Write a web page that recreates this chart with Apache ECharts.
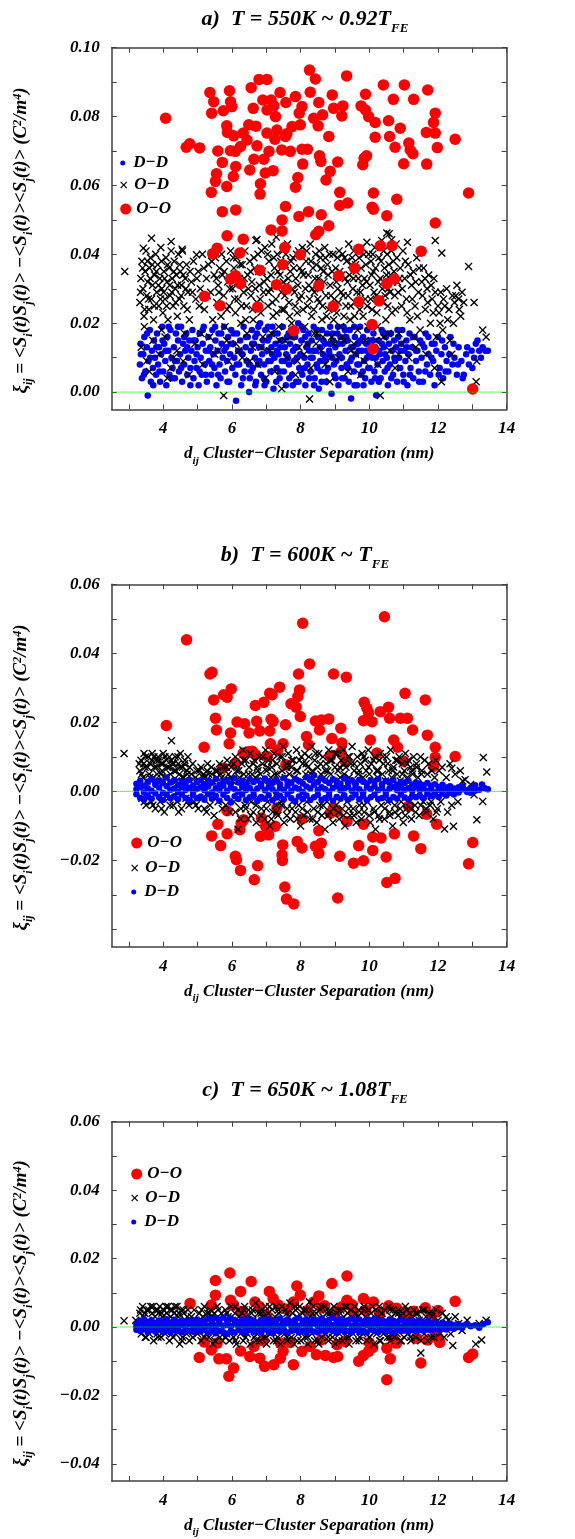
<!DOCTYPE html>
<html>
<head>
<meta charset="utf-8">
<title>Cluster correlation</title>
<script src="https://cdn.jsdelivr.net/npm/echarts@6/dist/echarts.min.js"></script>
<style>
  * { margin: 0; padding: 0; }
  body { background: #fff; }
  #main { width: 575px; height: 1539px; }
</style>
</head>
<body>
<div id="main"></div>
<script>
// axis ticks
var xTicks = [3, 4, 5, 6, 7, 8, 9, 10, 11, 12, 13, 14];
var xLabels = [4, 6, 8, 10, 12, 14];
var aYTicks = [0, 0.01, 0.02, 0.03, 0.04, 0.05, 0.06, 0.07, 0.08, 0.09, 0.10];
var aYLabels = [0, 0.02, 0.04, 0.06, 0.08, 0.10];
var bYTicks = [-0.04, -0.03, -0.02, -0.01, 0, 0.01, 0.02, 0.03, 0.04, 0.05, 0.06];
var bYLabels = [-0.02, 0, 0.02, 0.04, 0.06];
var cYLabels = [-0.04, -0.02, 0, 0.02, 0.04, 0.06];
// the dotted zero reference, edge to edge of the x range
var zeroLine = [[2.5, 0], [14, 0]];

// a) T = 550K : flat x,y lists
var aOO = [4.07,0.0795, 4.67,0.0711, 4.77,0.0721, 5.06,0.0709, 5.36,0.0870, 5.47,0.0843, 5.41,0.0810, 5.40,0.0580, 5.55,0.0634, 5.52,0.0612, 5.59,0.0700, 5.72,0.0524, 5.75,0.0817, 5.85,0.0773, 5.87,0.0754, 5.72,0.0667, 5.85,0.0597, 5.93,0.0875, 5.96,0.0843, 6.00,0.0829, 6.05,0.0744, 5.96,0.0701, 6.04,0.0626, 6.11,0.0655, 6.11,0.0529, 6.10,0.0699, 6.25,0.0713, 6.33,0.0752, 6.44,0.0732, 6.49,0.0776, 6.56,0.0884, 6.52,0.0645, 6.62,0.0824, 6.64,0.0676, 6.70,0.0772, 6.73,0.0715, 6.79,0.0908, 6.83,0.0605, 6.82,0.0575, 6.90,0.0848, 6.93,0.0676, 6.97,0.0636, 7.02,0.0908, 7.02,0.0819, 7.02,0.0752, 7.08,0.0699, 7.14,0.0471, 7.20,0.0643, 7.14,0.0848, 7.22,0.0831, 7.27,0.0800, 7.25,0.0734, 7.31,0.0761, 7.40,0.0870, 7.45,0.0703, 7.46,0.0500, 7.46,0.0468, 7.56,0.0539, 7.57,0.0841, 7.56,0.0742, 7.70,0.0699, 7.60,0.0750, 7.75,0.0771, 7.85,0.0595, 7.92,0.0623, 7.85,0.0858, 7.96,0.0810, 7.95,0.0510, 7.99,0.0776, 8.04,0.0829, 8.04,0.0705, 8.06,0.0662, 8.20,0.0705, 8.23,0.0524, 8.26,0.0935, 8.28,0.0871, 8.43,0.0909, 8.38,0.0795, 8.53,0.0841, 8.51,0.0773, 8.55,0.0686, 8.59,0.0670, 8.44,0.0457, 8.53,0.0467, 8.60,0.0515, 8.64,0.0805, 8.74,0.0616, 8.86,0.0641, 8.82,0.0742, 8.92,0.0863, 8.82,0.0483, 8.96,0.0824, 9.08,0.0668, 9.14,0.0580, 9.14,0.0542, 9.20,0.0802, 9.23,0.0831, 9.34,0.0918, 9.37,0.0549, 9.76,0.0831, 9.89,0.0865, 9.89,0.0819, 9.98,0.0800, 10.17,0.0783, 10.17,0.0740, 9.81,0.0660, 9.85,0.0679, 9.92,0.0686, 10.12,0.0578, 10.08,0.0537, 10.12,0.0531, 10.41,0.0892, 10.51,0.0512, 10.56,0.0788, 10.59,0.0742, 10.70,0.0850, 10.75,0.0711, 10.80,0.0560, 10.90,0.0766, 11.02,0.0892, 11.00,0.0663, 11.15,0.0723, 11.19,0.0703, 11.27,0.0692, 11.29,0.0850, 11.66,0.0754, 11.70,0.0877, 11.67,0.0662, 11.87,0.0783, 11.92,0.0810, 11.92,0.0752, 11.98,0.0710, 11.92,0.0491, 12.50,0.0734, 12.89,0.0578,
  5.57,0.0418, 5.44,0.0402, 5.86,0.0454, 6.23,0.0404, 6.33,0.0444, 7.54,0.0420, 7.99,0.0399, 9.69,0.0415, 10.32,0.0425, 10.66,0.0425, 11.51,0.0409,
  7.48,0.0370, 6.81,0.0354, 5.96,0.0328, 6.10,0.0338, 6.25,0.0315, 7.30,0.0312, 7.59,0.0299, 5.20,0.0278, 5.65,0.0251, 6.75,0.0247, 8.53,0.0309, 9.11,0.0338, 9.57,0.0360, 9.69,0.0262, 10.28,0.0265, 8.95,0.0249, 10.51,0.0315, 10.73,0.0328, 10.08,0.0196, 7.80,0.0178, 10.10,0.0125, 13.01,0.0009];

var aOD = [3.32,0.026, 3.35,0.033, 3.38,0.038, 3.41,0.030, 3.44,0.022, 3.47,0.035, 3.50,0.041, 3.52,0.028, 3.55,0.032, 3.58,0.024, 3.60,0.036, 3.63,0.039, 3.66,0.027, 3.69,0.031, 3.72,0.021, 3.75,0.034, 3.78,0.040, 3.36,0.013, 3.52,0.009, 3.70,0.015,
  3.81,0.029, 3.84,0.037, 3.87,0.025, 3.90,0.033, 3.93,0.042, 3.96,0.030, 3.99,0.023, 4.02,0.035, 4.05,0.027, 4.08,0.039, 4.11,0.032, 4.14,0.021, 4.17,0.036, 4.20,0.028, 4.23,0.041, 4.26,0.033, 4.29,0.025, 3.88,0.011, 4.05,0.016, 4.22,0.007,
  4.32,0.038, 4.35,0.030, 4.38,0.034, 4.41,0.022, 4.44,0.040, 4.47,0.027, 4.50,0.035, 4.53,0.031, 4.56,0.041, 4.60,0.025, 4.64,0.033, 4.68,0.037, 4.72,0.029, 4.76,0.021, 4.40,0.012, 4.62,0.017, 4.75,0.005,
  4.82,0.032, 4.88,0.038, 4.95,0.027, 5.02,0.035, 5.08,0.030, 5.14,0.040, 5.20,0.024, 5.26,0.033, 5.32,0.037, 5.38,0.029, 5.44,0.021, 5.48,0.034, 4.92,0.014, 5.15,0.008, 5.35,0.016,
  5.52,0.039, 5.56,0.026, 5.60,0.031, 5.64,0.036, 5.68,0.022, 5.72,0.034, 5.76,0.028, 5.80,0.019, 5.84,0.038, 5.88,0.032, 5.92,0.025, 5.96,0.041, 5.60,0.012, 5.76,-0.001, 5.90,0.009,
  6.02,0.030, 6.06,0.036, 6.10,0.023, 6.14,0.039, 6.18,0.027, 6.22,0.033, 6.26,0.020, 6.30,0.037, 6.34,0.029, 6.38,0.041, 6.42,0.025, 6.46,0.034, 6.12,0.014, 6.30,0.010, 6.44,0.017,
  6.52,0.038, 6.55,0.028, 6.58,0.032, 6.62,0.021, 6.66,0.036, 6.70,0.044, 6.73,0.026, 6.76,0.040, 6.80,0.031, 6.84,0.023, 6.88,0.035, 6.92,0.029, 6.96,0.042, 6.60,0.013, 6.75,0.008, 6.90,0.016, 6.98,0.004,
  7.02,0.033, 7.05,0.025, 7.08,0.038, 7.12,0.030, 7.16,0.043, 7.20,0.022, 7.24,0.036, 7.28,0.027, 7.32,0.040, 7.36,0.019, 7.40,0.034, 7.44,0.029, 7.48,0.041, 7.10,0.012, 7.25,0.006, 7.38,0.015, 7.45,0.001,
  7.52,0.024, 7.55,0.037, 7.58,0.031, 7.62,0.043, 7.66,0.026, 7.70,0.035, 7.74,0.020, 7.78,0.039, 7.82,0.029, 7.86,0.033, 7.90,0.023, 7.94,0.041, 7.98,0.036, 7.60,0.010, 7.72,0.016, 7.85,0.005, 7.95,0.013,
  8.02,0.028, 8.05,0.042, 8.08,0.034, 8.12,0.019, 8.16,0.038, 8.20,0.025, 8.24,0.031, 8.28,0.043, 8.32,0.022, 8.36,0.036, 8.40,0.029, 8.44,0.040, 8.48,0.017, 8.10,0.011, 8.26,-0.002, 8.30,0.007, 8.45,0.014,
  8.52,0.033, 8.55,0.026, 8.58,0.039, 8.62,0.021, 8.66,0.035, 8.70,0.042, 8.74,0.028, 8.78,0.037, 8.82,0.024, 8.86,0.031, 8.90,0.016, 8.94,0.040, 8.98,0.027, 8.60,0.012, 8.72,0.008, 8.85,0.003, 8.96,0.014,
  9.02,0.036, 9.05,0.023, 9.08,0.030, 9.12,0.041, 9.16,0.019, 9.20,0.034, 9.24,0.028, 9.28,0.039, 9.32,0.025, 9.36,0.032, 9.40,0.043, 9.44,0.021, 9.48,0.037, 9.10,0.010, 9.25,0.015, 9.38,0.006, 9.46,0.012,
  9.52,0.030, 9.55,0.041, 9.58,0.026, 9.62,0.035, 9.66,0.018, 9.70,0.039, 9.74,0.029, 9.78,0.042, 9.82,0.022, 9.86,0.033, 9.90,0.037, 9.94,0.025, 9.98,0.040, 9.60,0.011, 9.75,0.005, 9.88,0.015,
  10.02,0.031, 10.05,0.038, 10.08,0.024, 10.12,0.035, 10.16,0.042, 10.20,0.028, 10.24,0.019, 10.28,0.039, 10.32,0.033, 10.36,0.044, 10.40,0.026, 10.44,0.036, 10.48,0.021, 10.10,0.013, 10.32,-0.001, 10.25,0.008, 10.42,0.016,
  10.52,0.040, 10.55,0.030, 10.58,0.046, 10.62,0.034, 10.66,0.023, 10.70,0.038, 10.74,0.028, 10.78,0.043, 10.82,0.032, 10.86,0.017, 10.90,0.036, 10.94,0.025, 10.98,0.041, 10.60,0.012, 10.75,0.007, 10.92,0.014,
  11.03,0.033, 11.08,0.027, 11.13,0.037, 11.18,0.021, 11.23,0.031, 11.28,0.035, 11.33,0.025, 11.38,0.039, 11.43,0.029, 11.48,0.018, 11.15,0.010, 11.35,0.013,
  11.53,0.032, 11.58,0.036, 11.63,0.024, 11.68,0.030, 11.73,0.034, 11.78,0.020, 11.83,0.027, 11.88,0.033, 11.95,0.016, 11.65,0.011, 11.90,0.007,
  12.03,0.023, 12.08,0.029, 12.14,0.018, 12.20,0.025, 12.28,0.021, 12.35,0.015, 12.42,0.028, 12.48,0.026, 12.55,0.031, 12.62,0.024, 12.70,0.029, 12.10,0.003, 12.40,0.011,
  2.88,0.035, 12.89,0.0365, 13.05,0.026, 13.40,0.016, 13.30,0.018, 13.13,0.009, 13.11,0.003, 11.11,0.0435, 11.92,0.044, 12.11,0.0404,
  3.66,0.0447, 4.23,0.0437, 3.42,0.0418, 4.55,0.0415, 4.97,0.0399, 6.73,0.0443, 7.29,0.0450, 10.51,0.0462, 10.65,0.0442, 9.93,0.0435,
  3.34,0.029, 3.40,0.036, 3.46,0.024, 3.54,0.038, 3.57,0.027, 3.62,0.033, 3.68,0.037, 3.74,0.025, 3.80,0.035, 3.86,0.031, 3.92,0.027, 3.95,0.038, 4.01,0.029, 4.04,0.033, 4.10,0.025, 4.13,0.037, 4.19,0.031, 4.25,0.029, 4.31,0.035, 4.36,0.026, 4.42,0.031, 4.48,0.037, 4.52,0.028, 4.58,0.034, 4.66,0.030, 4.70,0.024, 4.78,0.035, 3.45,0.019, 3.95,0.018, 4.30,0.010, 4.58,0.009, 3.60,0.006, 4.12,0.004,
  4.85,0.029, 4.98,0.033, 5.05,0.025, 5.18,0.036, 5.29,0.028, 5.41,0.038, 5.55,0.033, 5.62,0.029, 5.70,0.040, 5.78,0.035, 5.86,0.024, 5.94,0.030, 5.10,0.017, 5.50,0.011, 5.85,0.015,
  6.04,0.039, 6.08,0.027, 6.16,0.032, 6.24,0.037, 6.28,0.025, 6.36,0.033, 6.40,0.021, 6.48,0.030, 6.54,0.035, 6.60,0.024, 6.64,0.039, 6.68,0.030, 6.78,0.035, 6.82,0.027, 6.86,0.041, 6.94,0.032, 6.20,0.012, 6.52,0.009, 6.85,0.013,
  7.04,0.040, 7.07,0.029, 7.14,0.034, 7.18,0.026, 7.22,0.039, 7.26,0.031, 7.30,0.023, 7.34,0.035, 7.42,0.038, 7.46,0.024, 7.50,0.032, 7.54,0.028, 7.57,0.040, 7.64,0.033, 7.68,0.022, 7.72,0.038, 7.76,0.030, 7.80,0.036, 7.84,0.025, 7.88,0.040, 7.92,0.031, 7.96,0.027, 7.15,0.017, 7.55,0.015, 7.90,0.009,
  8.04,0.035, 8.07,0.024, 8.14,0.030, 8.18,0.041, 8.22,0.034, 8.26,0.027, 8.30,0.038, 8.34,0.030, 8.38,0.024, 8.42,0.033, 8.46,0.037, 8.50,0.027, 8.54,0.041, 8.57,0.030, 8.60,0.036, 8.64,0.025, 8.68,0.032, 8.72,0.039, 8.76,0.022, 8.80,0.034, 8.84,0.040, 8.88,0.028, 8.92,0.035, 8.96,0.021, 8.18,0.014, 8.40,0.017, 8.65,0.016, 8.88,0.010,
  9.04,0.032, 9.07,0.039, 9.10,0.026, 9.14,0.035, 9.18,0.029, 9.22,0.040, 9.26,0.022, 9.30,0.033, 9.34,0.038, 9.38,0.028, 9.42,0.034, 9.46,0.025, 9.50,0.039, 9.54,0.033, 9.57,0.022, 9.60,0.037, 9.64,0.029, 9.68,0.033, 9.72,0.024, 9.76,0.036, 9.80,0.031, 9.84,0.040, 9.88,0.027, 9.92,0.032, 9.96,0.019, 9.20,0.016, 9.55,0.014, 9.85,0.009,
  10.04,0.027, 10.07,0.034, 10.10,0.040, 10.14,0.029, 10.18,0.036, 10.22,0.023, 10.26,0.032, 10.30,0.027, 10.34,0.038, 10.38,0.030, 10.42,0.041, 10.46,0.028, 10.50,0.034, 10.54,0.025, 10.57,0.037, 10.60,0.029, 10.64,0.041, 10.68,0.032, 10.72,0.035, 10.76,0.024, 10.80,0.039, 10.84,0.029, 10.88,0.033, 10.96,0.030, 11.05,0.038, 11.10,0.023, 11.20,0.034, 11.25,0.027, 11.35,0.032, 11.40,0.022, 11.45,0.036, 10.20,0.015, 10.55,0.017, 10.85,0.011, 11.30,0.016,
  11.55,0.028, 11.62,0.033, 11.70,0.026, 11.80,0.031, 11.86,0.023, 11.92,0.029, 12.00,0.025, 12.06,0.020, 12.16,0.027, 12.25,0.030, 12.32,0.024, 12.45,0.020, 12.52,0.028, 12.60,0.027, 12.66,0.022, 12.75,0.026];

var aDD = [3.32,0.008, 3.34,0.014, 3.38,0.004, 3.42,0.011, 3.45,0.016, 3.48,0.006, 3.52,0.013, 3.55,-0.001, 3.57,0.009, 3.61,0.018, 3.64,0.003, 3.67,0.012, 3.70,0.007, 3.73,0.015, 3.76,0.010, 3.79,0.005,
  3.82,0.017, 3.85,0.008, 3.88,0.013, 3.91,0.003, 3.94,0.011, 3.97,0.019, 4.00,0.006, 4.03,0.014, 4.06,0.009, 4.09,0.002, 4.12,0.016, 4.15,0.012, 4.18,0.005, 4.21,0.018, 4.24,0.010, 4.27,0.007,
  4.31,0.013, 4.34,0.004, 4.37,0.017, 4.40,0.009, 4.43,0.015, 4.46,0.006, 4.49,0.011, 4.52,0.019, 4.55,0.003, 4.58,0.014, 4.61,0.008, 4.64,0.012, 4.67,0.017, 4.70,0.005, 4.73,0.010, 4.76,0.015, 4.79,0.007,
  4.82,0.012, 4.85,0.018, 4.88,0.004, 4.91,0.009, 4.94,0.015, 4.97,0.007, 5.00,0.013, 5.03,0.002, 5.06,0.017, 5.09,0.010, 5.12,0.005, 5.15,0.014, 5.18,0.019, 5.21,0.008, 5.24,0.012, 5.27,0.003,
  5.31,0.016, 5.34,0.009, 5.37,0.013, 5.40,0.005, 5.43,0.018, 5.46,0.011, 5.49,0.007, 5.52,0.015, 5.55,0.002, 5.58,0.012, 5.61,0.017, 5.64,0.008, 5.67,0.004, 5.70,0.014, 5.73,0.010, 5.77,0.019,
  5.80,0.006, 5.83,0.013, 5.86,0.009, 5.89,0.016, 5.92,0.003, 5.95,0.011, 5.98,0.018, 6.01,0.007, 6.04,0.014, 6.07,0.010, 6.10,0.005, 6.12,-0.0025, 6.15,0.017, 6.18,0.012, 6.21,0.008, 6.24,0.015, 6.27,0.002,
  6.31,0.011, 6.34,0.019, 6.37,0.006, 6.40,0.013, 6.43,0.009, 6.46,0.016, 6.50,0.000, 6.52,0.004, 6.55,0.012, 6.58,0.018, 6.61,0.007, 6.64,0.014, 6.67,0.010, 6.70,0.003, 6.73,0.017, 6.76,0.008,
  6.79,0.013, 6.82,0.020, 6.85,0.005, 6.88,0.011, 6.91,0.015, 6.94,0.008, 6.97,0.018, 7.00,0.003, 7.03,0.012, 7.06,0.009, 7.09,0.016, 7.12,0.006, 7.15,0.013, 7.18,0.019, 7.21,0.001, 7.24,0.010, 7.27,0.014,
  7.30,0.007, 7.33,0.017, 7.36,0.011, 7.39,0.004, 7.42,0.015, 7.45,0.009, 7.48,0.019, 7.51,0.006, 7.54,0.013, 7.57,0.002, 7.60,0.016, 7.63,0.010, 7.66,0.008, 7.69,0.014, 7.72,0.018, 7.75,0.005, 7.78,0.012,
  7.81,0.009, 7.84,0.016, 7.87,0.003, 7.90,0.013, 7.93,0.020, 7.96,0.007, 7.99,0.011, 8.02,0.015, 8.05,0.005, 8.08,0.018, 8.11,0.010, 8.14,0.002, 8.17,0.013, 8.20,0.008, 8.23,0.017, 8.26,0.012, 8.29,0.006,
  8.32,0.015, 8.35,0.010, 8.38,0.019, 8.41,0.004, 8.44,0.012, 8.47,0.008, 8.50,0.016, 8.53,0.001, 8.56,0.013, 8.59,0.006, 8.62,0.018, 8.65,0.011, 8.68,0.009, 8.71,0.014, 8.74,0.003, 8.77,0.017,
  8.80,0.007, 8.83,0.012, 8.86,0.019, 8.90,-0.0005, 8.92,0.010, 8.95,0.015, 8.98,0.005, 9.01,0.013, 9.04,0.009, 9.07,0.017, 9.10,0.002, 9.13,0.011, 9.16,0.016, 9.19,0.007, 9.22,0.014, 9.25,0.019, 9.28,0.004,
  9.31,0.012, 9.34,0.008, 9.37,0.015, 9.40,0.003, 9.43,0.018, 9.47,-0.0019, 9.49,0.010, 9.52,0.013, 9.55,0.006, 9.58,0.016, 9.61,0.011, 9.64,0.002, 9.67,0.014, 9.70,0.008, 9.73,0.019, 9.76,0.005,
  9.79,0.012, 9.82,0.016, 9.85,0.009, 9.88,0.004, 9.91,0.014, 9.94,0.018, 9.97,0.007, 10.00,0.011, 10.03,0.015, 10.06,0.003, 10.09,0.010, 10.12,0.017, 10.15,0.006, 10.18,0.013, 10.20,-0.0009, 10.24,0.008,
  10.27,0.015, 10.30,0.011, 10.33,0.004, 10.36,0.018, 10.39,0.009, 10.42,0.013, 10.45,0.006, 10.48,0.016, 10.51,0.010, 10.54,0.002, 10.57,0.014, 10.60,0.008, 10.63,0.017, 10.66,0.012, 10.69,0.005, 10.72,0.015,
  10.75,0.009, 10.78,0.013, 10.81,0.003, 10.84,0.016, 10.87,0.010, 10.90,0.007, 10.93,0.014, 10.96,0.018, 10.99,0.005, 11.02,0.012, 11.05,0.009, 11.08,0.015, 11.11,0.002, 11.14,0.011, 11.17,0.017, 11.20,0.007,
  11.24,0.013, 11.28,0.004, 11.32,0.016, 11.36,0.009, 11.40,0.012, 11.44,0.006, 11.48,0.015, 11.52,0.010, 11.56,0.003, 11.60,0.013, 11.64,0.017, 11.68,0.008, 11.72,0.011,
  11.77,0.005, 11.82,0.014, 11.86,0.009, 11.90,0.002, 11.95,0.012, 12.00,0.016, 12.05,0.007, 12.10,0.011, 12.15,0.004, 12.20,0.013, 12.25,0.009,
  12.30,0.006, 12.36,0.016, 12.42,0.008, 12.48,0.010, 12.55,0.005, 12.60,0.013, 12.68,0.009, 12.75,0.005, 12.82,0.011, 12.90,0.008, 12.98,0.012, 13.05,0.010, 13.10,0.014, 13.15,0.015, 13.20,0.012, 13.30,0.013, 13.38,0.012, 13.45,0.012, 12.72,0.004,
  6.56,0.006, 6.68,0.016, 6.80,0.009, 6.93,0.004, 7.05,0.019, 7.17,0.011, 7.29,0.003, 7.41,0.013, 7.53,0.009, 7.65,0.017, 7.77,0.002, 7.89,0.010, 8.01,0.006, 8.13,0.016, 8.25,0.004, 8.37,0.012, 8.49,0.007, 8.61,0.003, 8.73,0.010, 8.85,0.014, 8.97,0.008, 9.09,0.019, 9.21,0.004, 9.33,0.016, 9.45,0.009, 9.57,0.002, 9.69,0.012, 9.81,0.006, 9.93,0.010, 10.05,0.019, 10.17,0.004, 10.29,0.012, 10.41,0.017, 10.53,0.007,
  3.35,0.011, 3.44,0.005, 3.53,0.017, 3.62,0.010, 3.71,0.002, 3.80,0.013, 3.89,0.006, 3.98,0.015, 4.07,0.012, 4.16,0.019, 4.25,0.004, 4.34,0.009, 4.43,0.019, 4.52,0.007, 4.61,0.016, 4.70,0.013, 4.79,0.002, 4.88,0.015, 4.97,0.011, 5.06,0.006, 5.15,0.018, 5.24,0.005, 5.33,0.012, 5.42,0.008, 5.51,0.019, 5.60,0.005, 5.69,0.017, 5.78,0.012, 5.87,0.003, 5.96,0.014,
  6.05,0.017, 6.14,0.008, 6.23,0.012, 6.32,0.004, 6.41,0.016, 6.50,0.008, 6.59,0.014, 6.68,0.002, 6.77,0.019, 6.86,0.013, 6.95,0.002, 7.04,0.015, 7.13,0.009, 7.22,0.017, 7.31,0.012, 7.40,0.006, 7.49,0.015, 7.58,0.011, 7.67,0.004, 7.76,0.016, 7.85,0.013, 7.94,0.003, 8.03,0.019, 8.12,0.007, 8.21,0.014, 8.30,0.010, 8.39,0.002, 8.48,0.018, 8.57,0.009, 8.66,0.015,
  8.75,0.006, 8.84,0.011, 8.93,0.017, 9.02,0.004, 9.11,0.014, 9.20,0.010, 9.29,0.018, 9.38,0.007, 9.47,0.013, 9.56,0.019, 9.65,0.008, 9.74,0.015, 9.83,0.002, 9.92,0.012, 10.01,0.007, 10.10,0.015, 10.19,0.010, 10.28,0.003, 10.37,0.014, 10.46,0.011, 10.55,0.017, 10.64,0.004, 10.73,0.010, 10.82,0.018, 10.91,0.012, 11.00,0.003, 11.09,0.013, 11.18,0.005, 11.27,0.016, 11.36,0.012,
  11.45,0.003, 11.54,0.014, 11.63,0.006, 11.72,0.016, 11.81,0.010, 11.90,0.014, 12.02,0.005, 12.12,0.015, 12.22,0.006, 12.33,0.011, 12.45,0.014, 12.58,0.008, 12.85,0.013, 13.00,0.007, 13.25,0.010];

// b) T = 600K
var bOO = [4.68,0.0439, 4.09,0.0191, 5.36,0.0340, 5.42,0.0345, 5.47,0.0265, 5.52,0.0212, 5.55,0.0178, 5.19,0.0128, 5.76,0.0280, 5.86,0.0273, 5.98,0.0297, 5.96,0.0169, 5.92,0.0138, 6.15,0.0201, 6.37,0.0196, 6.50,0.0169, 6.59,0.0116, 6.68,0.0249, 6.72,0.0203, 6.81,0.0175, 6.93,0.0258, 7.10,0.0284, 7.17,0.0280, 7.14,0.0209, 7.20,0.0203, 7.10,0.0175, 7.12,0.0138, 7.39,0.0302, 7.56,0.0193, 7.49,0.0138, 7.33,0.0120, 7.72,0.0254, 7.87,0.0244, 7.94,0.0340, 7.97,0.0294, 7.92,0.0275, 7.99,0.0217, 8.06,0.0487, 8.26,0.0369, 8.17,0.0159, 8.23,0.0135, 8.43,0.0204, 8.55,0.0178, 8.60,0.0207, 8.82,0.0210, 8.96,0.0340, 8.91,0.0153, 9.17,0.0183, 9.20,0.0140, 9.17,0.0114, 9.33,0.0331, 9.85,0.0258, 9.93,0.0241, 9.98,0.0227, 9.83,0.0205, 10.08,0.0202, 10.03,0.0149, 10.22,0.0111, 10.32,0.0231, 10.44,0.0506, 10.56,0.0244, 10.59,0.0212, 10.71,0.0149, 10.82,0.0128, 10.90,0.0212, 11.04,0.0284, 11.11,0.0212, 11.26,0.0178, 11.00,0.0087, 11.63,0.0265, 11.69,0.0163, 11.92,0.0128, 11.92,0.0099, 12.50,0.0101, 11.87,0.0072, 6.33,0.0111, 6.50,0.0115, 6.69,0.0106, 7.03,0.0101, 7.57,0.0077, 8.86,0.0101, 9.30,0.0087, 5.74,0.0067, 6.10,0.0082,
  5.86,-0.0056, 5.59,-0.0095, 5.41,-0.0129, 5.67,-0.0157, 5.86,-0.0123, 6.27,-0.0092, 6.34,-0.0082, 6.23,-0.0111, 6.10,-0.0188, 6.13,-0.0198, 6.25,-0.0229, 6.65,-0.0256, 6.75,-0.0215, 6.83,-0.0130, 6.86,-0.0077, 6.98,-0.0101, 7.07,-0.0126, 7.26,-0.0101, 7.48,-0.0155, 7.46,-0.0184, 7.47,-0.0200, 7.54,-0.0277, 7.59,-0.0312, 7.80,-0.0326, 7.90,-0.0145, 8.04,-0.0164, 8.43,-0.0159, 8.53,-0.0179, 8.60,-0.0150, 8.53,-0.0114, 8.04,-0.0080, 9.14,-0.0188, 9.08,-0.0309, 9.54,-0.0208, 9.83,-0.0201, 9.69,-0.0157, 9.83,-0.0095, 10.10,-0.0132, 10.10,-0.0171, 9.35,-0.0087, 10.49,-0.0190, 10.51,-0.0264, 10.75,-0.0252, 10.34,-0.0135, 10.73,-0.0123, 11.29,-0.0129, 11.50,-0.0166, 11.67,-0.0066, 11.96,-0.0095, 12.89,-0.0210, 13.01,-0.0148, 8.96,-0.0048, 9.06,-0.0058, 8.86,-0.0063, 7.31,-0.0048, 11.14,-0.0043];

var bOD = [3.32,0.006, 3.35,0.009, 3.38,-0.002, 3.41,0.004, 3.44,0.011, 3.47,0.007, 3.50,-0.004, 3.53,0.003, 3.56,0.010, 3.59,0.005, 3.62,0.008, 3.65,-0.003, 3.68,0.011, 3.71,0.004, 3.74,0.007, 3.77,-0.005, 3.79,0.009,
  3.82,0.005, 3.85,0.010, 3.88,0.003, 3.91,-0.003, 3.94,0.008, 3.97,0.006, 4.00,0.011, 4.03,-0.006, 4.06,0.004, 4.09,0.009, 4.12,0.007, 4.15,-0.002, 4.18,0.010, 4.21,0.005, 4.24,0.0147, 4.26,0.008, 4.29,-0.004,
  4.32,0.006, 4.35,0.010, 4.38,0.003, 4.41,-0.003, 4.44,0.008, 4.47,0.005, 4.50,0.011, 4.53,-0.005, 4.56,0.007, 4.60,0.004, 4.63,0.009, 4.66,-0.002, 4.69,0.006, 4.72,0.010, 4.75,-0.004, 4.78,0.003,
  4.82,0.005, 4.86,0.008, 4.90,-0.003, 4.94,0.004, 4.98,0.006, 5.02,-0.005, 5.06,0.003, 5.10,0.007, 5.14,-0.002, 5.18,0.005, 5.22,0.004, 5.26,-0.006, 5.29,0.008,
  5.32,0.005, 5.36,-0.004, 5.40,0.007, 5.44,0.003, 5.48,-0.007, 5.52,0.006, 5.56,0.004, 5.60,-0.003, 5.64,0.008, 5.68,0.005, 5.72,-0.005, 5.76,0.007, 5.79,0.003,
  5.82,-0.004, 5.86,0.009, 5.90,0.005, 5.94,-0.006, 5.98,0.007, 6.02,0.003, 6.06,-0.003, 6.10,0.010, 6.14,0.006, 6.18,-0.011, 6.22,0.004, 6.26,-0.005, 6.29,0.008,
  6.32,0.012, 6.35,0.005, 6.38,-0.004, 6.41,0.009, 6.44,0.003, 6.47,-0.008, 6.50,0.007, 6.53,0.011, 6.56,-0.003, 6.59,0.005, 6.62,-0.006, 6.65,0.009, 6.68,0.004, 6.71,-0.009, 6.74,0.007, 6.77,-0.002,
  6.80,0.010, 6.83,0.005, 6.86,-0.005, 6.89,0.008, 6.92,0.003, 6.95,-0.008, 6.98,0.012, 7.01,0.006, 7.04,-0.003, 7.07,0.009, 7.10,-0.010, 7.13,0.004, 7.16,0.007, 7.19,-0.006, 7.22,0.011, 7.25,0.005, 7.28,-0.004,
  7.31,0.008, 7.34,-0.007, 7.37,0.003, 7.40,0.010, 7.43,-0.003, 7.46,0.006, 7.49,0.013, 7.52,-0.009, 7.55,0.004, 7.58,0.008, 7.61,-0.005, 7.64,0.011, 7.67,0.005, 7.70,-0.008, 7.73,0.007, 7.76,-0.003, 7.79,0.009,
  7.82,0.004, 7.85,-0.006, 7.88,0.012, 7.91,0.006, 7.94,-0.004, 7.97,0.009, 8.00,-0.010, 8.03,0.003, 8.06,0.008, 8.09,-0.007, 8.12,0.011, 8.15,0.005, 8.18,-0.003, 8.21,0.007, 8.24,0.010, 8.27,-0.008, 8.29,0.004,
  8.32,0.013, 8.35,0.006, 8.38,-0.005, 8.41,0.009, 8.44,0.003, 8.47,-0.009, 8.50,0.007, 8.53,0.011, 8.56,-0.004, 8.59,0.005, 8.62,-0.007, 8.65,0.010, 8.68,0.004, 8.71,-0.011, 8.74,0.008, 8.77,-0.003, 8.79,0.006,
  8.82,0.012, 8.85,-0.006, 8.88,0.005, 8.91,0.009, 8.94,-0.009, 8.97,0.003, 9.00,0.007, 9.03,-0.004, 9.06,0.011, 9.09,0.006, 9.12,-0.008, 9.15,0.004, 9.18,0.009, 9.21,-0.005, 9.24,0.012, 9.27,0.005, 9.29,-0.010,
  9.32,0.007, 9.35,-0.003, 9.38,0.010, 9.41,0.004, 9.44,-0.007, 9.47,0.008, 9.50,0.013, 9.53,-0.005, 9.56,0.006, 9.59,0.003, 9.62,-0.009, 9.65,0.010, 9.68,0.005, 9.71,-0.004, 9.74,0.008, 9.77,-0.008, 9.79,0.011,
  9.82,0.004, 9.85,-0.006, 9.88,0.009, 9.91,0.006, 9.94,-0.003, 9.97,0.012, 10.00,0.005, 10.03,-0.009, 10.06,0.008, 10.09,0.003, 10.12,-0.005, 10.15,0.010, 10.18,-0.011, 10.21,0.006, 10.24,0.004, 10.27,-0.007, 10.29,0.009,
  10.32,0.011, 10.35,-0.004, 10.38,0.005, 10.41,0.008, 10.44,-0.008, 10.47,0.003, 10.50,0.010, 10.53,-0.003, 10.56,0.006, 10.59,-0.006, 10.62,0.012, 10.65,0.004, 10.68,-0.010, 10.71,0.007, 10.74,-0.004, 10.77,0.009,
  10.81,0.005, 10.84,-0.007, 10.87,0.010, 10.90,0.003, 10.93,-0.003, 10.96,0.008, 10.99,-0.009, 11.02,0.006, 11.05,0.011, 11.08,-0.005, 11.11,0.004, 11.14,0.009, 11.17,-0.003, 11.20,0.007, 11.23,-0.008, 11.26,0.005, 11.29,0.010,
  11.33,-0.004, 11.37,0.008, 11.41,0.004, 11.45,-0.007, 11.49,0.010, 11.53,0.006, 11.57,-0.003, 11.61,0.009, 11.65,-0.006, 11.69,0.005, 11.73,0.008, 11.77,-0.004,
  11.82,0.006, 11.86,-0.008, 11.90,0.004, 11.94,0.009, 11.98,-0.005, 12.03,0.006, 12.08,-0.003, 12.12,0.007, 12.19,-0.0109, 12.24,0.004, 12.28,-0.006,
  12.35,0.008, 12.40,-0.004, 12.45,-0.0101, 12.50,0.005, 12.58,-0.003, 12.65,0.006, 12.72,0.003, 12.79,0.0034, 12.40,0.0067, 13.13,-0.0082, 13.30,-0.0029, 13.32,0.0098, 13.42,0.0056, 2.86,0.011, 12.95,0.002, 13.05,-0.001,
  3.30,0.008, 3.37,0.005, 3.43,0.008, 3.49,0.010, 3.55,0.007, 3.61,0.004, 3.67,0.009, 3.73,0.010, 3.80,0.007, 3.87,0.009, 3.93,0.005, 3.99,0.008, 4.05,0.010, 4.11,0.004, 4.17,0.007, 4.23,0.009, 4.31,0.008, 4.37,0.006, 4.43,0.010, 4.49,0.007, 4.55,0.004, 4.62,0.008, 4.70,0.005, 4.77,0.007,
  3.45,-0.003, 3.70,-0.004, 3.95,-0.005, 4.20,-0.004, 4.45,-0.006, 4.70,-0.003, 4.95,-0.004, 5.20,-0.005,
  5.05,0.006, 5.16,0.004, 5.28,0.006, 5.42,0.005, 5.58,0.006, 5.70,0.004, 5.84,0.007, 5.96,0.004,
  6.05,0.008, 6.20,0.006, 6.34,0.009, 6.48,0.005, 6.62,0.008, 6.76,0.006, 6.90,0.010, 7.04,0.007, 7.18,0.009, 7.32,0.005, 7.46,0.010, 7.60,0.007, 7.74,0.009, 7.88,0.006, 8.02,0.010, 8.16,0.008, 8.30,0.005, 8.44,0.011, 8.58,0.008, 8.72,0.006, 8.86,0.009, 9.00,0.011, 9.14,0.007, 9.28,0.008, 9.42,0.010, 9.56,0.008, 9.70,0.006, 9.84,0.010, 9.98,0.007, 10.12,0.009, 10.26,0.006, 10.40,0.010, 10.54,0.008, 10.68,0.006, 10.82,0.009, 10.96,0.005, 11.10,0.008, 11.24,0.006, 11.38,0.007, 11.52,0.005,
  6.10,-0.006, 6.25,-0.008, 6.40,-0.005, 6.55,-0.007, 6.70,-0.004, 6.85,-0.007, 7.00,-0.005, 7.15,-0.008, 7.30,-0.006, 7.45,-0.004, 7.60,-0.007, 7.75,-0.005, 7.90,-0.008, 8.05,-0.005, 8.20,-0.006, 8.35,-0.008, 8.50,-0.006, 8.65,-0.004, 8.80,-0.007, 8.95,-0.005, 9.10,-0.006, 9.25,-0.007, 9.40,-0.005, 9.55,-0.007, 9.70,-0.006, 9.85,-0.004, 10.00,-0.007, 10.15,-0.006, 10.30,-0.008, 10.45,-0.005, 10.60,-0.007, 10.75,-0.006, 10.90,-0.005, 11.05,-0.007, 11.20,-0.005, 11.35,-0.006, 11.50,-0.004, 11.65,-0.005, 11.80,-0.003, 11.95,-0.006];

// rows: x, then the y values seen in that column
var bDD = [[3.22,0.0022,-0.0008,0.0006],[3.33,0.0031,-0.0019,0.0012],[3.44,0.0016,-0.0024,-0.0003],[3.55,0.0028,-0.0012,0.0009],[3.66,0.0035,-0.0021,0.0002],[3.77,0.0019,-0.0006,0.0027],[3.88,0.0030,-0.0017,0.0011],[3.99,0.0024,-0.0025,-0.0004],[4.10,0.0040,-0.0010,0.0015],[4.21,0.0026,-0.0020,0.0005],[4.32,0.0033,-0.0014,0.0008],[4.43,0.0018,-0.0023,-0.0002],[4.54,0.0029,-0.0009,0.0013],[4.65,0.0022,-0.0019,0.0004],[4.76,0.0034,-0.0026,0.0010],[4.87,0.0017,-0.0011,-0.0001],[4.98,0.0027,-0.0020,0.0007],[5.09,0.0032,-0.0015,0.0012],[5.20,0.0021,-0.0024,0.0003],[5.31,0.0030,-0.0008,0.0014],[5.42,0.0025,-0.0021,-0.0003],[5.53,0.0036,-0.0013,0.0009],[5.64,0.0019,-0.0027,0.0005],[5.75,0.0028,-0.0010,0.0016],[5.86,0.0033,-0.0019,0.0002],[5.97,0.0023,-0.0032,0.0011],[6.08,0.0038,-0.0014,0.0006],[6.19,0.0026,-0.0022,-0.0002],[6.30,0.0031,-0.0009,0.0013],[6.41,0.0020,-0.0025,0.0004],[6.52,0.0035,-0.0017,0.0010],[6.63,0.0027,-0.0012,-0.0001],[6.74,0.0032,-0.0028,0.0008],[6.85,0.0022,-0.0016,0.0015],[6.96,0.0037,-0.0021,0.0003],[7.07,0.0029,-0.0011,0.0012],[7.18,0.0024,-0.0026,0.0006],[7.29,0.0034,-0.0018,-0.0003],[7.40,0.0021,-0.0013,0.0010],[7.51,0.0039,-0.0023,0.0005],[7.62,0.0028,-0.0008,0.0016],[7.73,0.0025,-0.0020,0.0002],[7.84,0.0036,-0.0029,0.0011],[7.95,0.0030,-0.0015,0.0007],[8.06,0.0023,-0.0022,-0.0002],[8.17,0.0041,-0.0012,0.0014],[8.28,0.0033,-0.0025,0.0008],[8.39,0.0046,-0.0017,0.0019],[8.50,0.0027,-0.0010,0.0004],[8.61,0.0038,-0.0024,0.0012],[8.72,0.0031,-0.0019,0.0006],[8.83,0.0024,-0.0013,-0.0001],[8.94,0.0035,-0.0027,0.0010],[9.05,0.0029,-0.0016,0.0015],[9.16,0.0022,-0.0021,0.0003],[9.27,0.0037,-0.0011,0.0009],[9.38,0.0026,-0.0024,0.0013],[9.49,0.0032,-0.0018,0.0002],[9.60,0.0020,-0.0009,0.0011],[9.71,0.0034,-0.0023,0.0006],[9.82,0.0028,-0.0014,-0.0003],[9.93,0.0023,-0.0026,0.0012],[10.04,0.0033,-0.0017,0.0007],[10.15,0.0027,-0.0010,0.0015],[10.26,0.0036,-0.0022,0.0004],[10.37,0.0021,-0.0019,0.0010],[10.48,0.0030,-0.0012,-0.0002],[10.59,0.0025,-0.0025,0.0008],[10.70,0.0033,-0.0016,0.0013],[10.81,0.0019,-0.0021,0.0003],[10.92,0.0028,-0.0009,0.0011],[11.03,0.0024,-0.0018,0.0005],[11.14,0.0031,-0.0023,0.0009],[11.25,0.0020,-0.0013,0.0002],[11.36,0.0026,-0.0017,0.0012],[11.47,0.0022,-0.0011,0.0004],[11.58,0.0018,-0.0020,0.0008],[11.69,0.0024,-0.0008,0.0001],[11.80,0.0016,-0.0014,0.0006],[11.91,0.0021,-0.0010,-0.0003],[12.02,0.0013,-0.0016,0.0005],[12.13,0.0019,-0.0006,0.0002],[12.24,0.0011,-0.0012,0.0006],[12.35,0.0015,-0.0004,0.0001],[12.46,0.0008,-0.0009,0.0004],[12.60,0.0012,-0.0003],[12.72,0.0006,0.0015],[12.85,0.0003,-0.0002],[12.95,0.0009,-0.0004],[13.08,0.0018,0.0002],[13.20,0.0005],[13.28,0.0020],[13.35,0.0010],[13.45,0.0006]];

// c) T = 650K
var cOO = [5.52,0.0136, 5.94,0.0158, 6.56,0.0133, 9.35,0.0149, 5.52,0.0093, 5.40,0.0064, 6.25,0.0104, 5.96,0.0078, 6.05,0.0064, 6.67,0.0073, 7.09,0.0104, 7.20,0.0083, 7.35,0.0064, 7.89,0.0120, 7.99,0.0093, 7.79,0.0073, 8.53,0.0091, 8.38,0.0073, 8.62,0.0056, 8.91,0.0127, 9.35,0.0078, 9.20,0.0059, 9.83,0.0083, 10.12,0.0073, 9.54,0.0044, 10.56,0.0062, 11.04,0.0044, 11.29,0.0046, 11.63,0.0056, 11.97,0.0044, 12.50,0.0075, 4.78,0.0069, 6.30,0.0045, 6.80,0.0060, 7.00,0.0035, 7.60,0.0052, 8.20,0.0048, 8.70,0.0062, 9.00,0.0040, 9.50,0.0065, 9.90,0.0050, 10.30,0.0042, 10.80,0.0055, 11.10,0.0038, 11.80,0.0035, 12.00,0.0048,
  5.05,-0.0089, 5.62,-0.0093, 5.84,-0.0093, 5.91,-0.0144, 6.05,-0.0120, 5.40,-0.0067, 5.20,-0.0044, 6.25,-0.0070, 6.52,-0.0086, 6.81,-0.0091, 6.95,-0.0115, 7.22,-0.0110, 7.41,-0.0091, 7.49,-0.0071, 7.79,-0.0110, 8.04,-0.0071, 8.46,-0.0081, 8.72,-0.0083, 8.96,-0.0089, 9.08,-0.0086, 9.69,-0.0100, 9.83,-0.0083, 9.98,-0.0071, 10.10,-0.0060, 10.51,-0.0154, 10.61,-0.0093, 10.51,-0.0062, 11.50,-0.0105, 12.89,-0.0089, 13.01,-0.0079, 11.97,-0.0028, 11.38,-0.0033, 10.79,-0.0047, 5.57,-0.0047, 6.64,-0.0057, 7.41,-0.0047, 8.28,-0.0057, 9.06,-0.0052, 6.90,-0.0040, 7.70,-0.0045, 8.60,-0.0038, 9.30,-0.0042, 10.00,-0.0046, 10.70,-0.0035, 11.70,-0.0038, 12.05,-0.0045];

var cOD = [3.32,0.004, 3.36,-0.002, 3.40,0.006, 3.44,0.003, 3.48,-0.003, 3.52,0.005, 3.56,0.002, 3.60,-0.002, 3.64,0.006, 3.68,0.004, 3.72,-0.004, 3.76,0.003, 3.79,0.005,
  3.82,-0.002, 3.86,0.004, 3.90,0.006, 3.94,-0.003, 3.98,0.003, 4.02,0.005, 4.06,-0.002, 4.10,0.004, 4.14,0.006, 4.18,-0.004, 4.22,0.003, 4.26,0.005, 4.29,-0.003,
  4.32,0.004, 4.36,-0.002, 4.40,0.006, 4.44,0.003, 4.48,-0.005, 4.52,0.005, 4.56,-0.003, 4.60,0.004, 4.64,0.002, 4.68,-0.002, 4.72,0.005, 4.76,-0.004,
  4.82,0.003, 4.86,-0.003, 4.90,0.005, 4.95,0.002, 5.00,-0.002, 5.05,0.004, 5.10,-0.004, 5.15,0.003, 5.20,0.006, 5.25,-0.002, 5.29,0.004,
  5.33,-0.003, 5.37,0.005, 5.41,0.003, 5.45,-0.005, 5.49,0.004, 5.53,-0.002, 5.57,0.006, 5.61,0.002, 5.65,-0.003, 5.69,0.004, 5.73,-0.004, 5.77,0.003,
  5.81,0.005, 5.85,-0.002, 5.89,0.003, 5.93,-0.004, 5.97,0.006, 6.01,0.002, 6.05,-0.003, 6.09,0.004, 6.13,-0.005, 6.17,0.005, 6.21,0.003, 6.25,-0.002, 6.29,0.004,
  6.33,-0.004, 6.37,0.006, 6.41,0.003, 6.45,-0.002, 6.49,0.005, 6.53,-0.005, 6.57,0.004, 6.61,0.002, 6.65,-0.003, 6.69,0.007, 6.73,-0.002, 6.77,0.004,
  6.81,-0.004, 6.85,0.005, 6.89,0.003, 6.93,-0.003, 6.97,0.006, 7.01,-0.005, 7.05,0.004, 7.09,0.002, 7.13,-0.002, 7.17,0.005, 7.21,-0.004, 7.25,0.003, 7.29,0.006,
  7.33,-0.003, 7.37,0.004, 7.41,-0.005, 7.45,0.006, 7.49,0.002, 7.53,-0.002, 7.57,0.005, 7.61,-0.004, 7.65,0.003, 7.69,0.007, 7.73,-0.003, 7.77,0.004,
  7.81,-0.005, 7.85,0.005, 7.89,0.003, 7.93,-0.002, 7.97,0.006, 8.01,-0.004, 8.05,0.004, 8.09,0.002, 8.13,-0.003, 8.17,0.005, 8.21,-0.005, 8.26,0.0073, 8.29,0.003,
  8.33,-0.002, 8.37,0.006, 8.41,-0.004, 8.45,0.004, 8.49,0.002, 8.53,-0.005, 8.57,0.005, 8.61,-0.003, 8.65,0.003, 8.69,0.006, 8.73,-0.002, 8.77,0.004,
  8.81,-0.004, 8.85,0.005, 8.89,0.003, 8.93,-0.003, 8.97,0.006, 9.01,-0.005, 9.05,0.004, 9.09,0.002, 9.13,-0.002, 9.17,0.005, 9.21,-0.004, 9.25,0.003, 9.29,0.006,
  9.33,-0.003, 9.37,0.004, 9.41,-0.005, 9.45,0.005, 9.49,0.002, 9.53,-0.002, 9.57,0.006, 9.61,-0.004, 9.65,0.003, 9.69,0.005, 9.73,-0.003, 9.77,0.004,
  9.81,-0.002, 9.85,0.006, 9.89,0.003, 9.93,-0.004, 9.97,0.005, 10.01,-0.003, 10.05,0.004, 10.09,0.002, 10.13,-0.005, 10.17,0.005, 10.21,-0.002, 10.25,0.003, 10.29,0.006,
  10.33,-0.004, 10.37,0.004, 10.41,-0.002, 10.45,0.005, 10.49,0.002, 10.53,-0.003, 10.57,0.006, 10.61,-0.004, 10.65,0.003, 10.69,0.005, 10.73,-0.003, 10.77,0.004,
  10.81,-0.002, 10.85,0.005, 10.89,0.003, 10.93,-0.004, 10.97,0.004, 11.01,-0.003, 11.05,0.006, 11.09,0.002, 11.13,-0.002, 11.17,0.004, 11.21,-0.004, 11.25,0.003,
  11.30,0.005, 11.35,-0.003, 11.40,0.004, 11.45,0.002, 11.50,-0.0076, 11.55,0.005, 11.60,-0.002, 11.65,0.003, 11.70,-0.004, 11.75,0.004,
  11.82,0.003, 11.88,-0.003, 11.94,0.005, 12.00,0.002, 12.06,-0.002, 12.12,0.004, 12.18,-0.003, 12.24,0.003, 12.30,0.002, 12.37,-0.002, 12.43,-0.0054, 12.50,0.003,
  12.60,0.001, 12.70,-0.001, 12.85,0.002, 13.10,-0.005, 13.27,-0.0038, 13.40,0.002, 13.20,0.001, 2.86,0.0018, 3.20,0.002,
  3.34,0.005, 3.46,0.004, 3.58,0.005, 3.70,0.006, 3.84,0.005, 3.96,0.004, 4.08,0.006, 4.20,0.005, 4.34,0.006, 4.46,0.004, 4.58,0.005, 4.70,0.003, 3.50,-0.003, 3.85,-0.003, 4.25,-0.002, 4.55,-0.004,
  5.12,0.005, 5.35,0.004, 5.60,0.005, 5.85,0.004, 6.10,0.006, 6.35,0.005, 6.60,0.005, 6.85,0.004, 7.10,0.006, 7.35,0.005, 7.60,0.004, 7.85,0.006, 8.10,0.005, 8.35,0.004, 8.60,0.006, 8.85,0.004, 9.10,0.005, 9.35,0.006, 9.60,0.004, 9.85,0.005, 10.10,0.006, 10.35,0.004, 10.60,0.005, 10.85,0.004, 11.10,0.005, 11.35,0.004, 11.60,0.005, 11.85,0.004,
  5.20,-0.003, 5.50,-0.004, 5.80,-0.003, 6.10,-0.004, 6.40,-0.003, 6.70,-0.004, 7.00,-0.003, 7.30,-0.004, 7.60,-0.003, 7.90,-0.004, 8.20,-0.003, 8.50,-0.004, 8.80,-0.003, 9.10,-0.004, 9.40,-0.003, 9.70,-0.004, 10.00,-0.003, 10.30,-0.004, 10.60,-0.003, 10.90,-0.004, 11.20,-0.003, 11.50,-0.004, 11.80,-0.003];

var cDD = [[3.22,0.0010,-0.0008,0.0002],[3.33,0.0018,-0.0012,0.0005],[3.44,0.0022,-0.0006,0.0010],[3.55,0.0014,-0.0015,0.0001],[3.66,0.0020,-0.0009,0.0007],[3.77,0.0012,-0.0013,0.0003],[3.88,0.0019,-0.0007,0.0009],[3.99,0.0016,-0.0014,0.0000],[4.10,0.0023,-0.0010,0.0006],[4.21,0.0013,-0.0016,0.0002],[4.32,0.0021,-0.0008,0.0008],[4.43,0.0015,-0.0012,-0.0001],[4.54,0.0019,-0.0015,0.0005],[4.65,0.0012,-0.0007,0.0003],[4.76,0.0020,-0.0011,0.0009],[4.87,0.0016,-0.0014,0.0001],[4.98,0.0022,-0.0009,0.0006],[5.09,0.0014,-0.0013,0.0002],[5.20,0.0019,-0.0006,0.0010],[5.31,0.0024,-0.0016,0.0004],[5.42,0.0017,-0.0010,0.0007],[5.53,0.0026,-0.0018,0.0001],[5.64,0.0021,-0.0012,0.0009],[5.75,0.0028,-0.0015,0.0004],[5.86,0.0018,-0.0020,0.0006],[5.97,0.0025,-0.0011,0.0002],[6.08,0.0020,-0.0016,0.0008],[6.19,0.0015,-0.0009,0.0003],[6.30,0.0022,-0.0013,0.0006],[6.41,0.0017,-0.0017,0.0001],[6.52,0.0024,-0.0008,0.0009],[6.63,0.0019,-0.0014,0.0004],[6.74,0.0013,-0.0011,0.0007],[6.85,0.0021,-0.0016,0.0002],[6.96,0.0018,-0.0007,0.0010],[7.07,0.0023,-0.0013,0.0005],[7.18,0.0015,-0.0018,0.0001],[7.29,0.0020,-0.0010,0.0008],[7.40,0.0025,-0.0014,0.0003],[7.51,0.0017,-0.0008,0.0006],[7.62,0.0022,-0.0016,0.0011],[7.73,0.0014,-0.0012,0.0002],[7.84,0.0021,-0.0009,0.0007],[7.95,0.0026,-0.0015,0.0004],[8.06,0.0018,-0.0011,0.0009],[8.17,0.0023,-0.0017,0.0001],[8.28,0.0016,-0.0008,0.0006],[8.39,0.0022,-0.0013,0.0010],[8.50,0.0019,-0.0016,0.0003],[8.61,0.0024,-0.0010,0.0007],[8.72,0.0015,-0.0014,0.0002],[8.83,0.0021,-0.0007,0.0009],[8.94,0.0027,-0.0012,0.0005],[9.05,0.0018,-0.0017,0.0001],[9.16,0.0023,-0.0009,0.0008],[9.27,0.0016,-0.0013,0.0004],[9.38,0.0020,-0.0011,0.0010],[9.49,0.0025,-0.0015,0.0003],[9.60,0.0017,-0.0008,0.0006],[9.71,0.0022,-0.0014,0.0002],[9.82,0.0014,-0.0010,0.0009],[9.93,0.0021,-0.0016,0.0005],[10.04,0.0019,-0.0007,0.0001],[10.15,0.0024,-0.0012,0.0007],[10.26,0.0016,-0.0015,0.0004],[10.37,0.0020,-0.0009,0.0010],[10.48,0.0013,-0.0013,0.0002],[10.59,0.0022,-0.0011,0.0006],[10.70,0.0018,-0.0016,0.0003],[10.81,0.0015,-0.0008,0.0008],[10.92,0.0021,-0.0012,0.0001],[11.03,0.0017,-0.0010,0.0006],[11.14,0.0012,-0.0014,0.0003],[11.25,0.0019,-0.0008,0.0009],[11.36,0.0015,-0.0012,0.0002],[11.47,0.0020,-0.0009,0.0006],[11.58,0.0013,-0.0011,0.0004],[11.69,0.0017,-0.0007,0.0001],[11.80,0.0011,-0.0010,0.0005],[11.91,0.0015,-0.0006,0.0002],[12.02,0.0009,-0.0008,0.0004],[12.13,0.0013,-0.0005,0.0001],[12.24,0.0008,-0.0007,0.0003],[12.35,0.0010,-0.0003],[12.46,0.0006,-0.0005],[12.58,0.0009,0.0000],[12.70,0.0004,-0.0003],[12.82,0.0007],[12.95,0.0002],[13.08,0.0005],[13.20,-0.0002],[13.32,0.0008],[13.45,0.0014]];

var FONT = "'Liberation Serif', 'Times New Roman', serif";
// thin X drawn as a filled outline so the legend icon matches
var CROSS = 'path://M1.2,0L5,3.8L8.8,0L10,1.2L6.2,5L10,8.8L8.8,10L5,6.2L1.2,10L0,8.8L3.8,5L0,1.2Z';

function pairs(flat) {
  var out = [];
  for (var i = 0; i < flat.length; i += 2) out.push([flat[i], flat[i + 1]]);
  return out;
}
function fromRows(rows) {
  var out = [];
  rows.forEach(function (r) {
    for (var j = 1; j < r.length; j++) out.push([r[0], r[j]]);
  });
  return out;
}
function fmt(v) {
  if (Math.abs(v) < 1e-9) return '0.00';
  return (v < 0 ? '\u2212' : '') + Math.abs(v).toFixed(2);
}

var txt = { color: '#000', fontFamily: FONT, fontWeight: 'bold', fontStyle: 'italic' };
function rt(size, lh, pad) {
  return Object.assign({ fontSize: size, lineHeight: lh, verticalAlign: 'top', padding: [pad, 0, 0, 0] }, txt);
}

var panels = [
  { title: 'a)  T = 550K ~ 0.92T', titleTop: 8, top: 47.7, height: 361.6, yMin: -0.005, yMax: 0.10,
    yTicks: aYTicks, yLabels: aYLabels, legendX: 120.2, legendY: [163, 185, 209], order: ['D−D', 'O−D', 'O−O'],
    data: { 'O−O': pairs(aOO), 'O−D': pairs(aOD), 'D−D': pairs(aDD) } },
  { title: 'b)  T = 600K ~ T', titleTop: 544, top: 584.3, height: 362.4, yMin: -0.045, yMax: 0.06,
    yTicks: bYTicks, yLabels: bYLabels, legendX: 131.2, legendY: [843, 868, 892], order: ['O−O', 'O−D', 'D−D'],
    data: { 'O−O': pairs(bOO), 'O−D': pairs(bOD), 'D−D': fromRows(bDD) } },
  { title: 'c)  T = 650K ~ 1.08T', titleTop: 1079, top: 1121.7, height: 361.6, yMin: -0.045, yMax: 0.06,
    yTicks: bYTicks, yLabels: cYLabels, legendX: 131.2, legendY: [1174, 1198, 1222], order: ['O−O', 'O−D', 'D−D'],
    data: { 'O−O': pairs(cOO), 'O−D': pairs(cOD), 'D−D': fromRows(cDD) } }
];

var look = {
  'O−O': { symbol: 'circle', size: 11.5, color: '#ff0000', icon: 11 },
  'O−D': { symbol: CROSS, size: 8, color: '#000000', icon: 7 },
  'D−D': { symbol: 'circle', size: 6.5, color: '#0000ff', icon: 5 }
};

var axisLine = { show: true, onZero: false, lineStyle: { color: '#404040', width: 1.5 } };
var tickStyle = { inside: true, length: 5, lineStyle: { color: '#404040', width: 1 } };

var option = { animation: false, backgroundColor: '#fff', title: [], grid: [], xAxis: [], yAxis: [], legend: [], series: [] };

panels.forEach(function (p, i) {
  option.title.push({
    text: '{t|' + p.title + '}{s|FE}', left: 305, top: p.titleTop, textAlign: 'center', padding: 0,
    textStyle: { rich: { t: rt(22, 24, 0), s: rt(13, 13, 14) } }
  });
  option.grid.push({ left: 111.7, width: 395, top: p.top, height: p.height, containLabel: false });

  option.xAxis.push({
    gridIndex: i, type: 'value', min: 2.5, max: 14, position: 'bottom',
    axisLine: axisLine, splitLine: { show: false },
    axisTick: Object.assign({ customValues: xTicks }, tickStyle),
    axisLabel: Object.assign({ customValues: xLabels, fontSize: 17, margin: 11 }, txt),
    name: '{t|d}{s|ij}{t| Cluster\u2212Cluster Separation (nm)}', nameLocation: 'middle', nameGap: 36,
    nameTextStyle: { rich: { t: rt(17, 20, 0), s: rt(11, 11, 10) } }
  });
  option.xAxis.push({
    gridIndex: i, type: 'value', min: 2.5, max: 14, position: 'top',
    axisLine: axisLine, splitLine: { show: false },
    axisTick: Object.assign({ customValues: xTicks }, tickStyle), axisLabel: { show: false }
  });
  option.yAxis.push({
    gridIndex: i, type: 'value', min: p.yMin, max: p.yMax, position: 'left',
    axisLine: axisLine, splitLine: { show: false },
    axisTick: Object.assign({ customValues: p.yTicks }, tickStyle),
    axisLabel: Object.assign({ customValues: p.yLabels, fontSize: 17, margin: 12, formatter: fmt }, txt),
    name: '{t|\u03be}{s|ij}{t| = <S}{s|i}{t|(t)S}{s|j}{t|(t)> \u2212<S}{s|i}{t|(t)><S}{s|j}{t|(t)> (C}{p|2}{t|/m}{p|4}{t|)}',
    nameLocation: 'middle', nameRotate: 90, nameGap: 78,
    nameTextStyle: { padding: [0, 24, 0, 0], rich: { t: rt(19, 22, 0), s: rt(12, 12, 11), p: rt(12, 12, 0) } }
  });
  option.yAxis.push({
    gridIndex: i, type: 'value', min: p.yMin, max: p.yMax, position: 'right',
    axisLine: axisLine, splitLine: { show: false },
    axisTick: Object.assign({ customValues: p.yTicks }, tickStyle), axisLabel: { show: false }
  });

  p.order.forEach(function (name, k) {
    var lk = look[name];
    option.legend.push({
      left: p.legendX, top: p.legendY[k] - 10, padding: 0, itemGap: 0, selectedMode: false,
      itemWidth: 11, itemHeight: lk.icon, data: [name],
      textStyle: Object.assign({ fontSize: 17, lineHeight: 20 }, txt)
    });
    option.series.push({
      name: name, type: 'scatter', xAxisIndex: i * 2, yAxisIndex: i * 2,
      symbol: lk.symbol, symbolSize: lk.size, itemStyle: { color: lk.color, opacity: 1 },
      data: p.data[name], silent: true, large: false
    });
  });

  // green dotted y = 0 line, kept above the markers as in the original
  option.series.push({
    type: 'line', xAxisIndex: i * 2, yAxisIndex: i * 2, data: zeroLine, z: 10,
    showSymbol: false, symbol: 'none', silent: true,
    lineStyle: { color: '#00dd00', type: 'dotted', width: 1 }
  });
});

var chart = echarts.init(document.getElementById('main'));
chart.setOption(option);
</script>
</body>
</html>
